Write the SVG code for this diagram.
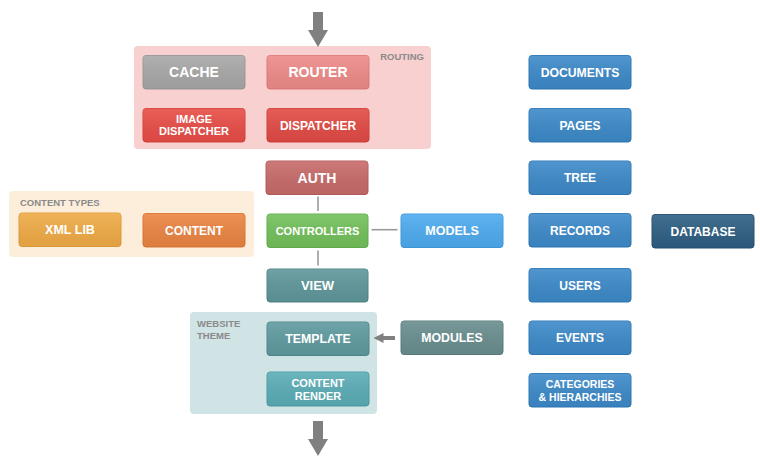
<svg xmlns="http://www.w3.org/2000/svg" width="760" height="471" viewBox="0 0 760 471">
<defs>
<linearGradient id="gloss" x1="0" y1="0" x2="0" y2="1">
<stop offset="0" stop-color="#ffffff" stop-opacity="0.10"/>
<stop offset="1" stop-color="#000000" stop-opacity="0.06"/>
</linearGradient>
</defs>
<style>
.grp{stroke:none}
.box{stroke-width:1}
.gl{fill:url(#gloss);stroke:none}
.t{font-family:"Liberation Sans",Arial,sans-serif;font-weight:bold;fill:#ffffff;text-anchor:middle}
.gt{font-family:"Liberation Sans",Arial,sans-serif;font-weight:bold;fill:#8a8a8a;font-size:9.5px}
.con{stroke:#9a9a9a;stroke-width:1.6;fill:none}
.arr{fill:#808080;stroke:none}
</style>
<rect width="760" height="471" fill="#ffffff"/>

<g id="group-routing">
<rect class="grp" x="134" y="46" width="297" height="103" rx="4" fill="#f8d0d0"/>
<text class="gt" x="424" y="60" text-anchor="end">ROUTING</text>
</g>
<g id="group-content-types">
<rect class="grp" x="9" y="191" width="245" height="66" rx="4" fill="#fdeedb"/>
<text class="gt" x="20" y="205.7">CONTENT TYPES</text>
</g>
<g id="group-website-theme">
<rect class="grp" x="190" y="312" width="187" height="102" rx="4" fill="#d0e3e5"/>
<text class="gt" x="197" y="326.7">WEBSITE</text>
<text class="gt" x="197" y="339.3">THEME</text>
</g>

<g id="connectors">
<path class="arr" d="M313 12 H323 V30 H328 L318 47 L308 30 H313 Z"/>
<line class="con" x1="318" y1="196.5" x2="318" y2="211"/>
<line class="con" x1="318" y1="250.5" x2="318" y2="265.5"/>
<line class="con" x1="371.5" y1="229.7" x2="397.5" y2="229.7"/>
<path class="arr" d="M395 336 V340 H383.5 V343 L373.5 338 L383.5 333 V336 Z"/>
<path class="arr" d="M313 421 H323 V439 H328 L318 456 L308 439 H313 Z"/>
</g>

<g id="cache">
<rect class="box" x="143" y="55.5" width="102" height="33.5" rx="3" fill="#a8a8a8" stroke="#989898"/>
<rect class="gl" x="143" y="55.5" width="102" height="33.5" rx="3"/>
<text class="t" x="194" y="77.3" font-size="14">CACHE</text>
</g>
<g id="router">
<rect class="box" x="267" y="55.5" width="102" height="33.5" rx="3" fill="#ee8b89" stroke="#e07a77"/>
<rect class="gl" x="267" y="55.5" width="102" height="33.5" rx="3"/>
<text class="t" x="318" y="77.3" font-size="14">ROUTER</text>
</g>
<g id="image-dispatcher">
<rect class="box" x="143" y="108.5" width="102" height="33.5" rx="3" fill="#e84d47" stroke="#d8433d"/>
<rect class="gl" x="143" y="108.5" width="102" height="33.5" rx="3"/>
<text class="t" x="194" y="123" font-size="11">IMAGE</text>
<text class="t" x="194" y="135" font-size="11">DISPATCHER</text>
</g>
<g id="dispatcher">
<rect class="box" x="267" y="108.5" width="102" height="33.5" rx="3" fill="#e24b45" stroke="#d2413b"/>
<rect class="gl" x="267" y="108.5" width="102" height="33.5" rx="3"/>
<text class="t" x="318" y="129.6" font-size="12">DISPATCHER</text>
</g>
<g id="auth">
<rect class="box" x="266" y="161" width="102" height="33.5" rx="3" fill="#c76b6a" stroke="#b65c5b"/>
<rect class="gl" x="266" y="161" width="102" height="33.5" rx="3"/>
<text class="t" x="317" y="182.8" font-size="14">AUTH</text>
</g>
<g id="xml-lib">
<rect class="box" x="19" y="213" width="102" height="33.5" rx="3" fill="#f0ab46" stroke="#e19b3a"/>
<rect class="gl" x="19" y="213" width="102" height="33.5" rx="3"/>
<text class="t" x="70" y="234.2" font-size="12.5">XML LIB</text>
</g>
<g id="content">
<rect class="box" x="143" y="213.5" width="102" height="33.5" rx="3" fill="#eb8543" stroke="#d97636"/>
<rect class="gl" x="143" y="213.5" width="102" height="33.5" rx="3"/>
<text class="t" x="194" y="234.5" font-size="12">CONTENT</text>
</g>
<g id="controllers">
<rect class="box" x="267" y="214" width="101" height="33.5" rx="3" fill="#73c05b" stroke="#63ae4e"/>
<rect class="gl" x="267" y="214" width="101" height="33.5" rx="3"/>
<text class="t" x="317.5" y="234.8" font-size="11">CONTROLLERS</text>
</g>
<g id="models">
<rect class="box" x="401" y="214" width="102" height="33.5" rx="3" fill="#4eabef" stroke="#3c99dd"/>
<rect class="gl" x="401" y="214" width="102" height="33.5" rx="3"/>
<text class="t" x="452" y="235.2" font-size="12.5">MODELS</text>
</g>
<g id="view">
<rect class="box" x="267" y="269" width="101" height="33" rx="3" fill="#5f979b" stroke="#508488"/>
<rect class="gl" x="267" y="269" width="101" height="33" rx="3"/>
<text class="t" x="317.5" y="290" font-size="13">VIEW</text>
</g>
<g id="template">
<rect class="box" x="267" y="322" width="102" height="33.5" rx="3" fill="#5f9ba0" stroke="#50888d"/>
<rect class="gl" x="267" y="322" width="102" height="33.5" rx="3"/>
<text class="t" x="318" y="343.2" font-size="12.3">TEMPLATE</text>
</g>
<g id="modules">
<rect class="box" x="401" y="321" width="102" height="33.5" rx="3" fill="#6a8e8f" stroke="#5a7d7e"/>
<rect class="gl" x="401" y="321" width="102" height="33.5" rx="3"/>
<text class="t" x="452" y="342.2" font-size="12.3">MODULES</text>
</g>
<g id="content-render">
<rect class="box" x="267" y="372" width="102" height="34" rx="3" fill="#5badb6" stroke="#4c9ba4"/>
<rect class="gl" x="267" y="372" width="102" height="34" rx="3"/>
<text class="t" x="318" y="387.3" font-size="11">CONTENT</text>
<text class="t" x="318" y="399.6" font-size="11">RENDER</text>
</g>

<g id="documents">
<rect class="box" x="529" y="55.5" width="102" height="33.5" rx="3" fill="#3d8ac9" stroke="#2f78b6"/>
<rect class="gl" x="529" y="55.5" width="102" height="33.5" rx="3"/>
<text class="t" x="580" y="76.6" font-size="12.2">DOCUMENTS</text>
</g>
<g id="pages">
<rect class="box" x="529" y="108.5" width="102" height="33.5" rx="3" fill="#3d8ac9" stroke="#2f78b6"/>
<rect class="gl" x="529" y="108.5" width="102" height="33.5" rx="3"/>
<text class="t" x="580" y="129.6" font-size="12">PAGES</text>
</g>
<g id="tree">
<rect class="box" x="529" y="161" width="102" height="33.5" rx="3" fill="#3d8ac9" stroke="#2f78b6"/>
<rect class="gl" x="529" y="161" width="102" height="33.5" rx="3"/>
<text class="t" x="580" y="182.1" font-size="12">TREE</text>
</g>
<g id="records">
<rect class="box" x="529" y="213.5" width="102" height="33.5" rx="3" fill="#3d8ac9" stroke="#2f78b6"/>
<rect class="gl" x="529" y="213.5" width="102" height="33.5" rx="3"/>
<text class="t" x="580" y="234.6" font-size="12">RECORDS</text>
</g>
<g id="database">
<rect class="box" x="652" y="214.5" width="102" height="33.5" rx="3" fill="#2f5f83" stroke="#244f70"/>
<rect class="gl" x="652" y="214.5" width="102" height="33.5" rx="3"/>
<text class="t" x="703" y="235.6" font-size="12">DATABASE</text>
</g>
<g id="users">
<rect class="box" x="529" y="268.5" width="102" height="33.5" rx="3" fill="#3d8ac9" stroke="#2f78b6"/>
<rect class="gl" x="529" y="268.5" width="102" height="33.5" rx="3"/>
<text class="t" x="580" y="289.6" font-size="12">USERS</text>
</g>
<g id="events">
<rect class="box" x="529" y="321" width="102" height="33.5" rx="3" fill="#3d8ac9" stroke="#2f78b6"/>
<rect class="gl" x="529" y="321" width="102" height="33.5" rx="3"/>
<text class="t" x="580" y="342.1" font-size="12">EVENTS</text>
</g>
<g id="categories">
<rect class="box" x="529" y="373.5" width="102" height="33.5" rx="3" fill="#3d8ac9" stroke="#2f78b6"/>
<rect class="gl" x="529" y="373.5" width="102" height="33.5" rx="3"/>
<text class="t" x="580" y="388.4" font-size="10.5">CATEGORIES</text>
<text class="t" x="580" y="400.6" font-size="10.5">&amp; HIERARCHIES</text>
</g>
</svg>
